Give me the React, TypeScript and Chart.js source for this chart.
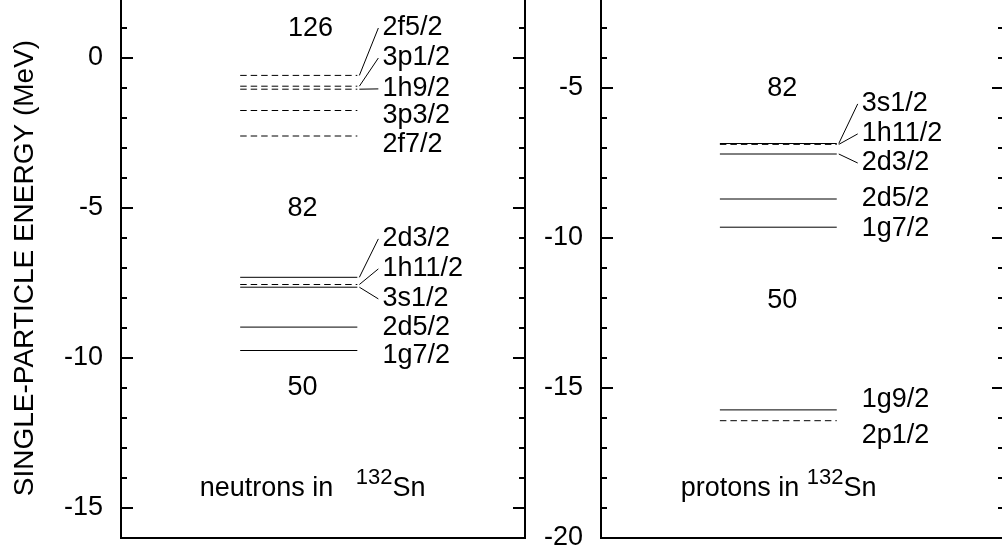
import React, { useEffect, useRef } from 'react';
import { Chart, registerables } from 'chart.js';

Chart.register(...registerables);

const FONT = "'Liberation Sans', Arial, Helvetica, sans-serif";

// ---------- neutrons in 132Sn ----------
const neutronOrbitals = ['2f5/2', '3p1/2', '1h9/2', '3p3/2', '2f7/2', '2d3/2', '1h11/2', '3s1/2', '2d5/2', '1g7/2'];
const neutronEnergies = [-0.58, -0.94, -1.04, -1.75, -2.6, -7.31, -7.55, -7.64, -8.97, -9.75];
const neutronNegParity = [true, true, true, true, true, false, true, false, false, false];
const neutronLabelAt = [1.0, 0.0, -1.03, -1.93, -2.87, -6.03, -7.03, -8.03, -8.97, -9.93];
const neutronConnector = [true, true, true, false, false, true, true, true, false, false];
const neutronMagic = ['126', '82', '50'];
const neutronMagicAt = [0.98, -5.03, -11.0];
const neutronRange = [-16, 2];

// ---------- protons in 132Sn ----------
const protonOrbitals = ['3s1/2', '1h11/2', '2d3/2', '2d5/2', '1g7/2', '1g9/2', '2p1/2'];
const protonEnergies = [-6.85, -6.88, -7.2, -8.7, -9.64, -15.73, -16.09];
const protonNegParity = [false, true, false, false, false, false, true];
const protonLabelAt = [-5.53, -6.53, -7.5, -8.7, -9.7, -15.37, -16.6];
const protonConnector = [true, true, true, false, false, false, false];
const protonMagic = ['82', '50'];
const protonMagicAt = [-5.02, -12.07];
const protonRange = [-20, -2];

const AXIS_TITLE = 'SINGLE-PARTICLE ENERGY (MeV)';

// layout (x in 0..10 panel units)
const LEVEL_X0 = 2.95;
const LEVEL_X1 = 5.85;
const CONN_X0 = 5.9;
const CONN_X1 = 6.37;
const LABEL_X = 6.47;

type PanelDef = {
  orbitals: string[];
  energies: number[];
  neg: boolean[];
  labelAt: number[];
  connector: boolean[];
  magic: string[];
  magicAt: number[];
  magicX: number[];
  range: number[];
  caption: string;
  captionX: number;
  captionY: number;
  title: boolean;
  axisWidth: number;
  padRight: number;
  left: number;
  width: number;
};

const panels: PanelDef[] = [
  {
    orbitals: neutronOrbitals,
    energies: neutronEnergies,
    neg: neutronNegParity,
    labelAt: neutronLabelAt,
    connector: neutronConnector,
    magic: neutronMagic,
    magicAt: neutronMagicAt,
    magicX: [4.69, 4.49, 4.49],
    range: neutronRange,
    caption: 'neutrons in   ',
    captionX: 1.95,
    captionY: -14.6,
    title: true,
    axisWidth: 121,
    padRight: 15,
    left: 0,
    width: 540,
  },
  {
    orbitals: protonOrbitals,
    energies: protonEnergies,
    neg: protonNegParity,
    labelAt: protonLabelAt,
    connector: protonConnector,
    magic: protonMagic,
    magicAt: protonMagicAt,
    magicX: [4.5, 4.5],
    range: protonRange,
    caption: 'protons in ',
    captionX: 1.98,
    captionY: -18.6,
    title: false,
    axisWidth: 71,
    padRight: 16,
    left: 530,
    width: 490,
  },
];

const CANVAS_TOP = -2;
const CANVAS_H = 560;
const PAD_BOTTOM = 20;
const LABEL_SIZE = 27;
const SUP_SIZE = 22;

function makePlugin(p: PanelDef) {
  return {
    id: 'levelDecor',
    afterDraw(chart: any) {
      const { ctx, chartArea: a } = chart;
      const x = chart.scales.x;
      const y = chart.scales.y;
      ctx.save();
      ctx.strokeStyle = '#000';
      ctx.fillStyle = '#000';
      ctx.setLineDash([]);
      // frame
      ctx.lineWidth = 2;
      ctx.lineJoin = 'miter';
      ctx.beginPath();
      ctx.moveTo(a.left, a.top - 5);
      ctx.lineTo(a.left, a.bottom);
      ctx.lineTo(a.right, a.bottom);
      ctx.lineTo(a.right, a.top - 5);
      ctx.stroke();
      // inward ticks on both sides
      for (let v = Math.ceil(y.min); v <= Math.floor(y.max); v++) {
        const py = y.getPixelForValue(v);
        const len = v % 5 === 0 ? 12 : 6;
        ctx.beginPath();
        ctx.moveTo(a.left, py);
        ctx.lineTo(a.left + len, py);
        ctx.moveTo(a.right, py);
        ctx.lineTo(a.right - len, py);
        ctx.stroke();
      }
      // connectors
      ctx.lineWidth = 1;
      p.energies.forEach((e, i) => {
        if (!p.connector[i]) return;
        ctx.beginPath();
        ctx.moveTo(x.getPixelForValue(CONN_X0), y.getPixelForValue(e));
        ctx.lineTo(x.getPixelForValue(CONN_X1), y.getPixelForValue(p.labelAt[i]));
        ctx.stroke();
      });
      // orbital labels
      ctx.font = `${LABEL_SIZE}px ${FONT}`;
      ctx.textBaseline = 'middle';
      ctx.textAlign = 'left';
      p.orbitals.forEach((name, i) => {
        ctx.fillText(name, x.getPixelForValue(LABEL_X), y.getPixelForValue(p.labelAt[i]));
      });
      // magic numbers
      ctx.textAlign = 'center';
      p.magic.forEach((m, i) => {
        ctx.fillText(m, x.getPixelForValue(p.magicX[i]), y.getPixelForValue(p.magicAt[i]));
      });
      // caption with superscript
      ctx.textAlign = 'left';
      ctx.textBaseline = 'alphabetic';
      const cx = x.getPixelForValue(p.captionX);
      const cy = y.getPixelForValue(p.captionY);
      ctx.font = `${LABEL_SIZE}px ${FONT}`;
      ctx.fillText(p.caption, cx, cy);
      const w1 = ctx.measureText(p.caption).width;
      ctx.font = `${SUP_SIZE}px ${FONT}`;
      ctx.fillText('132', cx + w1, cy - 12);
      const w2 = ctx.measureText('132').width;
      ctx.font = `${LABEL_SIZE}px ${FONT}`;
      ctx.fillText('Sn', cx + w1 + w2, cy);
      ctx.restore();
    },
  };
}

function buildConfig(p: PanelDef): any {
  const datasets = p.energies.map((e, i) => ({
    label: p.orbitals[i],
    data: [
      { x: LEVEL_X0, y: e },
      { x: LEVEL_X1, y: e },
    ],
    borderColor: '#000',
    borderWidth: 1,
    borderDash: p.neg[i] ? [6.5, 4] : [],
    pointRadius: 0,
    fill: false,
    tension: 0,
  }));
  return {
    type: 'line',
    data: { datasets },
    options: {
      animation: false,
      responsive: false,
      maintainAspectRatio: false,
      events: [],
      layout: { padding: { left: 0, top: 0, right: p.padRight, bottom: PAD_BOTTOM } },
      plugins: { legend: { display: false }, tooltip: { enabled: false } },
      scales: {
        x: { type: 'linear', min: 0, max: 10, display: false },
        y: {
          type: 'linear',
          min: p.range[0],
          max: p.range[1],
          afterFit: (s: any) => {
            s.width = p.axisWidth;
            s.paddingTop = 0;
            s.paddingBottom = 0;
          },
          grid: { display: false, drawTicks: false },
          border: { display: false },
          ticks: {
            stepSize: 1,
            autoSkip: false,
            padding: 18,
            color: '#000',
            font: { family: FONT, size: LABEL_SIZE },
            callback: (v: number) => (v % 5 === 0 ? String(v) : null),
          },
          title: {
            display: p.title,
            text: AXIS_TITLE,
            color: '#000',
            font: { family: FONT, size: 28 },
            padding: { top: 8, bottom: 0 },
          },
        },
      },
    },
    plugins: [makePlugin(p)],
  };
}

function Panel({ p }: { p: PanelDef }) {
  const ref = useRef<HTMLCanvasElement>(null);
  useEffect(() => {
    const chart = new Chart(ref.current as HTMLCanvasElement, buildConfig(p));
    return () => chart.destroy();
  }, [p]);
  return (
    <canvas
      ref={ref}
      width={p.width}
      height={CANVAS_H}
      style={{ position: 'absolute', left: p.left, top: CANVAS_TOP, width: p.width, height: CANVAS_H }}
    />
  );
}

export default function App() {
  return (
    <div
      style={{
        position: 'fixed',
        left: 0,
        top: 0,
        width: 1002,
        height: 556,
        overflow: 'hidden',
        background: '#fff',
      }}
    >
      {panels.map((p, i) => (
        <Panel key={i} p={p} />
      ))}
    </div>
  );
}
